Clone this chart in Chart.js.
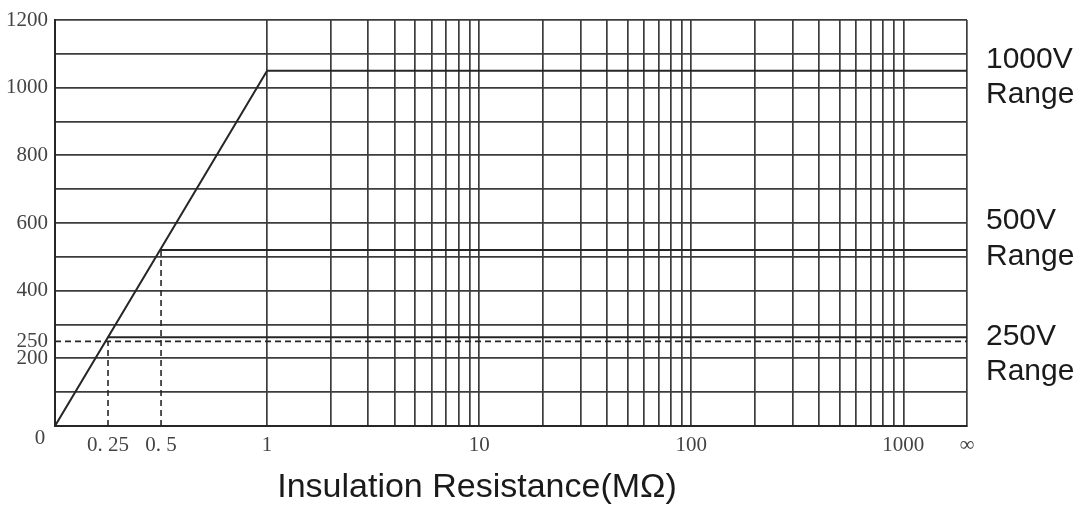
<!DOCTYPE html>
<html>
<head>
<meta charset="utf-8">
<script src="https://cdn.jsdelivr.net/npm/chart.js@4"></script>
<style>
  html, body { margin: 0; padding: 0; background: #fff; }
  #wrap { width: 1084px; height: 507px; }
</style>
</head>
<body>
<div id="wrap"><canvas id="chart"></canvas></div>
<script>
// x axis: linear 0..1 MΩ, then log 1..1000 MΩ, then ∞
var X_MAX = 4.3;
function toAxis(r) {
    if (r === Infinity) return X_MAX;
    return r <= 1 ? r : 1 + Math.log10(r);
}

// tick positions (MΩ) and labels
var xGridValues = [1, 2, 3, 4, 5, 6, 7, 8, 9, 10, 20, 30, 40, 50, 60, 70, 80, 90, 100,
    200, 300, 400, 500, 600, 700, 800, 900, 1000, Infinity];
var xLabelValues = [0.25, 0.5, 1, 10, 100, 1000, Infinity];
var xLabelTexts = ['0. 25', '0. 5', '1', '10', '100', '1000', '∞'];

var yGridValues = [0, 100, 200, 300, 400, 500, 600, 700, 800, 900, 1000, 1100, 1200];
var yLabelValues = [200, 250, 400, 600, 800, 1000, 1200];

// series: resistance (MΩ) and voltage (V)
var line1000R = [0, 1, Infinity];
var line1000V = [0, 1050, 1050];
var line500R = [0.5, Infinity];
var line500V = [520, 520];
var line250R = [0.25, Infinity];
var line250V = [262, 262];
var ref250R = [0, Infinity];
var ref250V = [250, 250];
var mark025R = [0.25, 0.25];
var mark025V = [0, 250];
var mark05R = [0.5, 0.5];
var mark05V = [0, 520];

function points(rs, vs) {
    return rs.map(function (r, i) { return { x: toAxis(r), y: vs[i] }; });
}

var LINE = '#262626';
var GRID = '#3c3c3c';
var tickFont = { family: "'Liberation Serif', serif", size: 21 };

function solid(rs, vs) {
    return { data: points(rs, vs), showLine: true, borderColor: LINE, borderWidth: 2,
        pointRadius: 0, fill: false, tension: 0 };
}
function dashed(rs, vs) {
    return { data: points(rs, vs), showLine: true, borderColor: LINE, borderWidth: 1.6,
        borderDash: [6, 4], pointRadius: 0, fill: false, tension: 0 };
}

var textPlugin = {
    id: 'texts',
    afterDraw: function (chart) {
        var c = chart.ctx;
        var area = chart.chartArea;
        c.save();
        c.fillStyle = '#444';
        c.font = "21px 'Liberation Serif', serif";
        c.textAlign = 'center';
        c.textBaseline = 'middle';
        c.fillText('0', 40, 438);

        c.fillStyle = '#1a1a1a';
        c.font = "30px 'Liberation Sans', Arial, sans-serif";
        c.textAlign = 'left';
        var lx = area.right + 19;
        c.fillText('1000V', lx, 60);
        c.fillText('Range', lx, 95);
        c.fillText('500V', lx, 221);
        c.fillText('Range', lx, 257);
        c.fillText('250V', lx, 337);
        c.fillText('Range', lx, 372);

        c.textAlign = 'center';
        c.font = "34px 'Liberation Sans', Arial, sans-serif";
        c.fillText('Insulation Resistance(MΩ)', 477, 488);
        c.restore();
    }
};

new Chart(document.getElementById('chart').getContext('2d'), {
    type: 'scatter',
    data: {
        datasets: [
            solid(line1000R, line1000V),
            solid(line500R, line500V),
            solid(line250R, line250V),
            dashed(ref250R, ref250V),
            dashed(mark025R, mark025V),
            dashed(mark05R, mark05V)
        ]
    },
    options: {
        responsive: true,
        maintainAspectRatio: false,
        animation: false,
        layout: { padding: { top: 20, right: 117, left: 0, bottom: 0 } },
        plugins: { legend: { display: false }, tooltip: { enabled: false } },
        scales: {
            x: {
                type: 'linear',
                min: 0,
                max: X_MAX,
                afterBuildTicks: function (scale) {
                    var vals = xLabelValues.concat(xGridValues).map(toAxis);
                    vals = vals.filter(function (v, i) { return vals.indexOf(v) === i; });
                    vals.sort(function (a, b) { return a - b; });
                    scale.ticks = vals.map(function (v) { return { value: v }; });
                },
                afterFit: function (scale) { scale.height = 81; },
                ticks: {
                    autoSkip: false,
                    maxRotation: 0,
                    padding: 7,
                    color: '#444',
                    font: tickFont,
                    callback: function (value) {
                        for (var i = 0; i < xLabelValues.length; i++) {
                            if (Math.abs(toAxis(xLabelValues[i]) - value) < 1e-6) return xLabelTexts[i];
                        }
                        return '';
                    }
                },
                grid: {
                    drawTicks: false,
                    lineWidth: 1.7,
                    color: function (ctx) {
                        if (ctx.tick && ctx.tick.value < 0.99) return 'rgba(0,0,0,0)';
                        return GRID;
                    }
                },
                border: { display: true, color: LINE, width: 2 }
            },
            y: {
                type: 'linear',
                min: 0,
                max: 1200,
                afterBuildTicks: function (scale) {
                    var vals = yGridValues.concat([250]);
                    vals.sort(function (a, b) { return a - b; });
                    scale.ticks = vals.map(function (v) { return { value: v }; });
                },
                afterFit: function (scale) { scale.width = 55; },
                ticks: {
                    autoSkip: false,
                    padding: 7,
                    color: '#444',
                    font: tickFont,
                    callback: function (value) {
                        return yLabelValues.indexOf(value) >= 0 ? String(value) : '';
                    }
                },
                grid: {
                    drawTicks: false,
                    lineWidth: 1.7,
                    color: function (ctx) {
                        if (ctx.tick && ctx.tick.value === 250) return 'rgba(0,0,0,0)';
                        return GRID;
                    }
                },
                border: { display: true, color: LINE, width: 2 }
            }
        }
    },
    plugins: [textPlugin]
});
</script>
</body>
</html>
